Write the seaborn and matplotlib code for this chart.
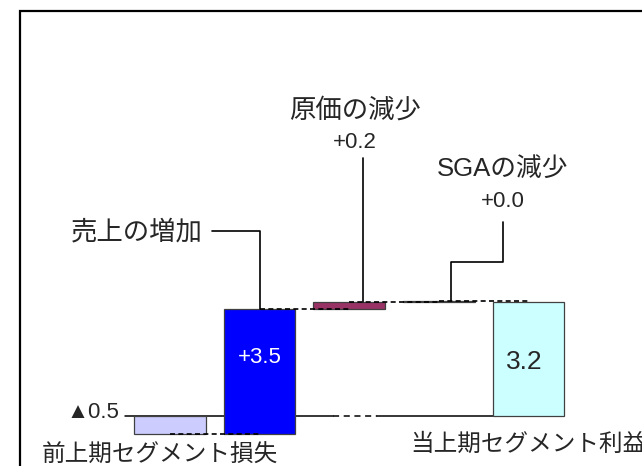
import matplotlib
matplotlib.use("Agg")
import matplotlib.pyplot as plt
import seaborn as sns
import pandas as pd
from matplotlib.patches import Rectangle

# --- data ---
items = ["前上期セグメント損失", "売上の増加", "原価の減少", "SGAの減少", "当上期セグメント利益"]
changes = [-0.5, 3.5, 0.2, 0.02, 3.2]   # first / last = levels, middle = steps
bar_colors = ["#ccccff", "#0000ff", "#993366", "#993366", "#ccffff"]

# waterfall bases and ends
level = changes[0]
bottoms, ends = [0.0], [level]
for c in changes[1:-1]:
    bottoms.append(level)
    level += c
    ends.append(level)
bottoms.append(0.0)
ends.append(changes[-1])
heights = [e - b for b, e in zip(bottoms, ends)]

value_text = ["▲%.1f" % abs(changes[0])] + ["%+.1f" % c for c in changes[1:-1]] + ["%.1f" % changes[-1]]

df = pd.DataFrame({"item": items, "height": heights})

sns.set_style("white")
plt.rcParams["font.family"] = ["Liberation Sans", "Noto Sans CJK JP", "DejaVu Sans"]

fig = plt.figure(figsize=(6.42, 4.66), dpi=100)
ax = fig.add_axes([0, 0, 1, 1])

sns.barplot(data=df, x="item", y="height", bottom=bottoms, errorbar=None, width=0.8,
            color="#0000ff", saturation=1, edgecolor="#404040", linewidth=0.9, ax=ax, zorder=3)
for patch, col in zip(ax.patches, bar_colors):
    patch.set_facecolor(col)

# baseline (partly broken like the original)
ax.plot([-0.5, 1.82], [0, 0], color="black", lw=1.1, zorder=1)
ax.plot([1.82, 2.31], [0, 0], color="black", lw=1.1, ls=(0, (4, 3)), zorder=1)
ax.plot([2.31, 3.6], [0, 0], color="black", lw=1.1, zorder=1)

# dashed connectors between bars
for i in range(len(items) - 1):
    ax.plot([i, i + 1], [ends[i], ends[i]], color="black", lw=1.2, ls=(0, (3, 2)), zorder=4)

# leader lines
ax.plot([0.47, 1.0, 1.0], [5.18, 5.18, ends[1]], color="black", lw=1.2, zorder=5)
ax.plot([2.15, 2.15], [7.23, ends[2]], color="black", lw=1.2, zorder=5)
ax.plot([3.72, 3.72, 3.14, 3.14], [5.43, 4.31, 4.31, ends[3]], color="black", lw=1.2, zorder=5)

# labels
ax.text(-0.11, -1.12, items[0], ha="center", va="center", fontsize=17, zorder=6)
ax.text(4.0, -0.81, items[4], ha="center", va="center", fontsize=17, zorder=6)
ax.text(0.37, 5.15, items[1], ha="right", va="center", fontsize=19, zorder=6)
ax.text(2.06, 8.57, items[2], ha="center", va="center", fontsize=19, zorder=6)
ax.text(2.06, 7.66, value_text[2], ha="center", va="center", fontsize=16, zorder=6)
ax.text(3.71, 6.92, items[3], ha="center", va="center", fontsize=18.5, zorder=6)
ax.text(3.71, 6.0, value_text[3], ha="center", va="center", fontsize=16, zorder=6)
ax.text(-0.57, 0.11, value_text[0], ha="right", va="center", fontsize=16, zorder=6)
ax.text(1.0, 1.65, value_text[1], ha="center", va="center", fontsize=16, color="white", zorder=6)
ax.text(3.95, 1.51, value_text[4], ha="center", va="center", fontsize=19, zorder=6)

ax.set_xlim(-170 / 89.6, (642 - 170) / 89.6)
ax.set_ylim((416 - 466) / 35.7, 416 / 35.7)
ax.axis("off")

# outer frame (cropped on right and bottom)
fig.add_artist(Rectangle((20 / 642, -0.1), 1.2, 1 - 11 / 466 + 0.1, transform=fig.transFigure,
                         fill=False, edgecolor="black", linewidth=1.6))

fig.savefig("out.png", dpi=100)
